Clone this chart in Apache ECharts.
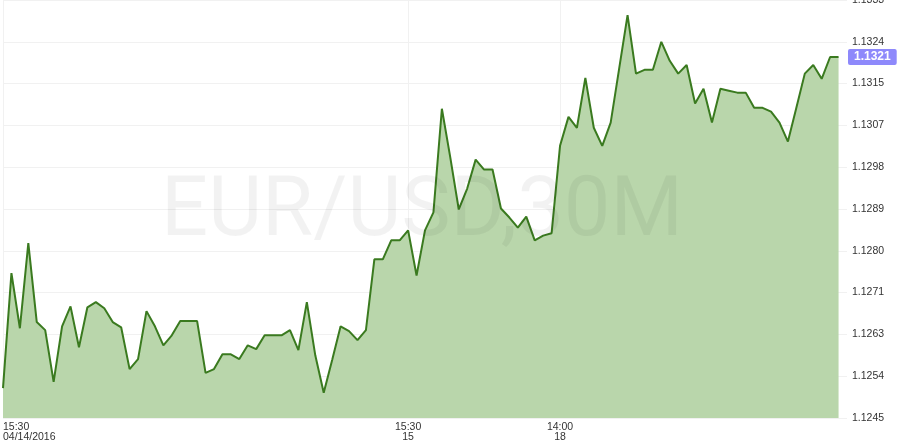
<!DOCTYPE html>
<html>
<head>
<meta charset="utf-8">
<script src="https://cdn.jsdelivr.net/npm/echarts@6/dist/echarts.min.js"></script>
<style>
html,body{margin:0;padding:0;background:#fff;}
#chart{width:900px;height:448px;}
</style>
</head>
<body>
<div id="chart"></div>
<script>
// EUR/USD 30-minute closes
const prices = [
  1.12513, 1.12755, 1.12639, 1.12818, 1.12652, 1.12635, 1.12526, 1.12643, 1.12685, 1.12599,
  1.12683, 1.12694, 1.12681, 1.12652, 1.12641, 1.12553, 1.12574, 1.12675, 1.12643, 1.12603,
  1.12624, 1.12654, 1.12654, 1.12654, 1.12545, 1.12553, 1.12584, 1.12584, 1.12574, 1.12603,
  1.12595, 1.12624, 1.12624, 1.12624, 1.12635, 1.12593, 1.12694, 1.12582, 1.12503, 1.12572,
  1.12643, 1.12633, 1.12614, 1.12635, 1.12784, 1.12784, 1.12824, 1.12824, 1.12845, 1.12750,
  1.12845, 1.12883, 1.13101, 1.12998, 1.12889, 1.12933, 1.12994, 1.12973, 1.12973, 1.12891,
  1.12872, 1.12851, 1.12874, 1.12824, 1.12834, 1.12839, 1.13023, 1.13084, 1.13061, 1.13166,
  1.13061, 1.13023, 1.13072, 1.13185, 1.13298, 1.13175, 1.13183, 1.13183, 1.13242, 1.13202,
  1.13175, 1.13193, 1.13112, 1.13143, 1.13072, 1.13143, 1.13139, 1.13135, 1.13135, 1.13103,
  1.13103, 1.13095, 1.13072, 1.13032, 1.13103, 1.13175, 1.13193, 1.13164, 1.13210, 1.13210
];
// one empty slot after the last bar
const categories = prices.map((_, i) => String(i)).concat(['']);
const xTickIdx = [0, 48, 66];
const xTickText = ['15:30\n04/14/2016', '15:30\n15', '14:00\n18'];
const yBase = 1.1245;       // lowest tick label
const yStepPips = 88;       // 0.00088 per tick
const yTickCount = 10;
const lastPrice = 1.1321;

const toPips = v => Math.round((v - yBase) * 1e5);
const seriesData = prices.map(toPips);

const chart = echarts.init(document.getElementById('chart'), null, {renderer: 'canvas'});
const isTick = (i) => xTickIdx.indexOf(i) >= 0;

chart.setOption({
  animation: false,
  backgroundColor: '#ffffff',
  grid: {left: 3, right: 53, top: 0, bottom: 30, containLabel: false, outerBoundsMode: 'none'},
  xAxis: {
    type: 'category',
    data: categories,
    boundaryGap: false,
    axisLine: {show: false},
    axisTick: {show: false},
    axisLabel: {
      interval: (i) => isTick(i),
      formatter: (v, i) => { const k = xTickIdx.indexOf(i); return k >= 0 ? xTickText[k] : ''; },
      alignMinLabel: 'left',
      color: '#333',
      fontFamily: 'Liberation Sans, Arial, sans-serif',
      fontSize: 10.5,
      lineHeight: 10,
      margin: 4
    },
    splitLine: {show: true, interval: (i) => isTick(i), lineStyle: {color: '#f1f1f1', width: 1}}
  },
  yAxis: {
    type: 'value',
    position: 'right',
    min: 0,
    max: yStepPips * yTickCount,
    interval: yStepPips,
    axisLine: {show: false},
    axisTick: {show: false},
    axisLabel: {
      formatter: (v) => (yBase + v / 1e5).toFixed(4),
      color: '#333',
      fontFamily: 'Liberation Sans, Arial, sans-serif',
      fontSize: 10.5,
      margin: 5
    },
    splitLine: {show: true, lineStyle: {color: '#f1f1f1', width: 1}}
  },
  series: [{
    type: 'line',
    data: seriesData,
    symbol: 'none',
    lineStyle: {color: '#3a7a1f', width: 2},
    areaStyle: {color: '#b9d6ab', opacity: 1},
    markLine: {
      silent: true,
      symbol: 'none',
      lineStyle: {color: 'rgba(0,0,0,0)', width: 0},
      data: [{yAxis: toPips(lastPrice)}],
      label: {
        show: true,
        position: 'end',
        distance: 1,
        formatter: () => lastPrice.toFixed(4),
        color: '#fff',
        fontWeight: 'bold',
        fontSize: 12,
        fontFamily: 'Liberation Sans, Arial, sans-serif',
        backgroundColor: '#8e89fb',
        borderRadius: 2,
        padding: [2, 6, 2, 6]
      }
    }
  }],
  graphic: [{
    type: 'text',
    z: 100,
    silent: true,
    x: 422,
    y: 214,
    style: {
      text: 'EUR/USD,30M',
      font: '83px Roboto',
      fill: 'rgba(0,0,0,0.05)',
      textAlign: 'center',
      textVerticalAlign: 'middle'
    }
  }]
});
</script>
</body>
</html>
